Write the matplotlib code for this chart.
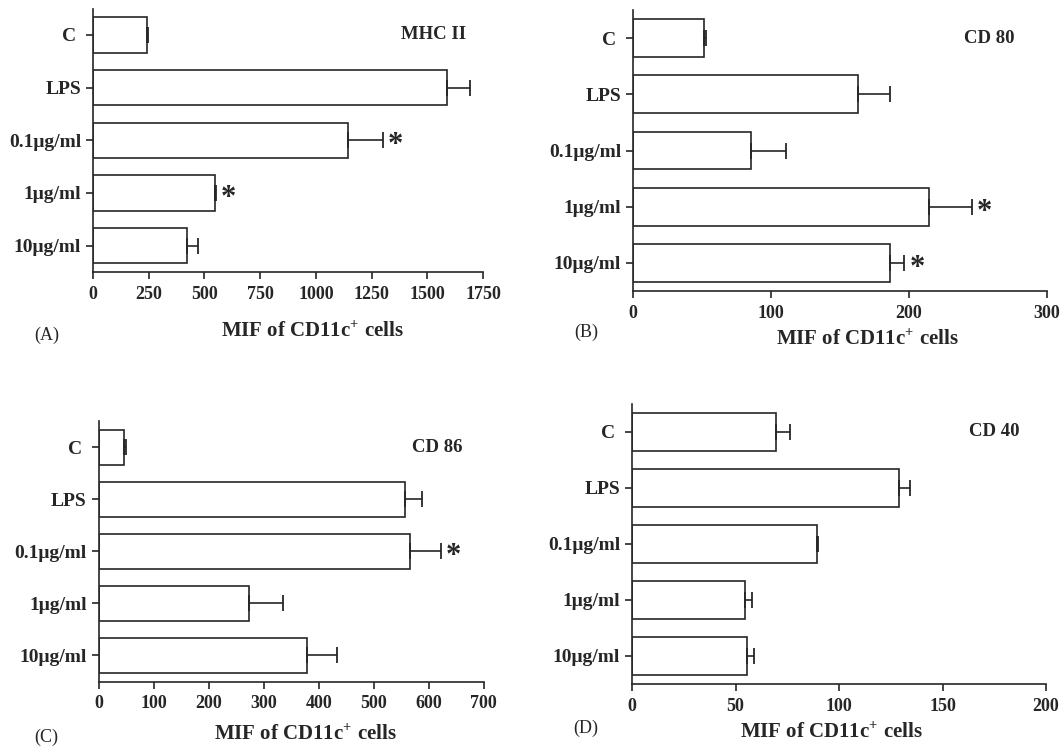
import numpy as np
import matplotlib
matplotlib.use("Agg")
import matplotlib.pyplot as plt

plt.rcParams['font.family'] = ['Liberation Serif', 'DejaVu Serif']
plt.rcParams['mathtext.fontset'] = 'custom'
plt.rcParams['mathtext.rm'] = 'Liberation Serif:bold'
plt.rcParams['mathtext.bf'] = 'Liberation Serif:bold'

categories = ['C ', 'LPS', '0.1\u03bcg/ml', '1\u03bcg/ml', '10\u03bcg/ml']

mhc2_mean = [243, 1587, 1144, 547, 422]
mhc2_err = [5, 103, 157, 5, 50]
mhc2_star = [0, 0, 1, 1, 0]

cd80_mean = [51.3, 162.7, 85.3, 214.2, 186.1]
cd80_err = [1.5, 23.6, 25.6, 31.3, 10.6]
cd80_star = [0, 0, 0, 1, 1]

cd86_mean = [46.4, 556.6, 566, 274, 378.5]
cd86_err = [3, 31.5, 56.7, 61, 55.5]
cd86_star = [0, 0, 1, 0, 0]

cd40_mean = [69.6, 129.2, 89.5, 54.7, 55.7]
cd40_err = [6.8, 5.3, 0.5, 3.3, 3.1]
cd40_star = [0, 0, 0, 0, 0]

W, H = 1062, 746
fig = plt.figure(figsize=(W / 100, H / 100), dpi=100)
ink = '#262626'


def px_axes(l, t, r, b):
    return fig.add_axes([l / W, 1 - b / H, (r - l) / W, (b - t) / H])


def panel(ax, mean, err, star, xmax, xticks, title, title_x):
    y = np.arange(len(categories))
    ax.barh(y, mean, height=0.67, color='white', edgecolor=ink, linewidth=1.2)
    ax.errorbar(mean, y, xerr=[np.zeros(len(err)), err], fmt='none',
                ecolor=ink, elinewidth=1.2, capsize=6, capthick=1.3)
    for i, s in enumerate(star):
        if s:
            ax.annotate('*', (mean[i] + err[i], i), xytext=(9, -4),
                        textcoords='offset points', ha='center', va='center',
                        fontsize=22, fontweight='bold', color=ink)
    ax.text(title_x, 0, title, ha='center', va='center', fontsize=13.5,
            fontweight='bold', color=ink)
    ax.set_xlim(0, xmax)
    ax.set_ylim(len(categories) - 0.5, -0.5)
    ax.set_xticks(xticks)
    ax.set_yticks(y)
    ax.set_yticklabels(categories)
    for sp in ['top', 'right']:
        ax.spines[sp].set_visible(False)
    for sp in ['left', 'bottom']:
        ax.spines[sp].set_linewidth(1.2)
        ax.spines[sp].set_color(ink)
    ax.tick_params(direction='out', length=5, width=1.2, color=ink,
                   labelcolor=ink)
    ax.tick_params(axis='y', pad=3.5)
    ax.tick_params(axis='x', pad=5)
    for lab in ax.get_xticklabels():
        lab.set_fontweight('bold')
        lab.set_fontsize(13)
    for lab in ax.get_yticklabels():
        lab.set_fontweight('bold')
        lab.set_fontsize(14)


axA = px_axes(93, 8.5, 483, 272)
panel(axA, mhc2_mean, mhc2_err, mhc2_star, 1750,
      [0, 250, 500, 750, 1000, 1250, 1500, 1750], 'MHC II', 1526)
axB = px_axes(633, 10, 1047, 291)
panel(axB, cd80_mean, cd80_err, cd80_star, 300, [0, 100, 200, 300], 'CD 80', 258)
axC = px_axes(98.6, 421, 483.7, 681.5)
panel(axC, cd86_mean, cd86_err, cd86_star, 700,
      [0, 100, 200, 300, 400, 500, 600, 700], 'CD 86', 615)
axD = px_axes(632, 404, 1046, 684)
panel(axD, cd40_mean, cd40_err, cd40_star, 200, [0, 50, 100, 150, 200], 'CD 40', 175)

xlab = 'MIF of CD11c$^{+}$ cells'
for (x, yy) in [(312, 332), (867, 340), (305, 735), (831, 733)]:
    fig.text(x / W, 1 - yy / H, xlab, ha='center', va='center', fontsize=15,
             fontweight='bold', color=ink)
for lab, (x, yy) in zip(['(A)', '(B)', '(C)', '(D)'],
                        [(47, 335), (586, 332), (46, 737), (586, 728)]):
    fig.text(x / W, 1 - yy / H, lab, ha='center', va='center', fontsize=13,
             color=ink)

fig.savefig('out.png', dpi=100)
